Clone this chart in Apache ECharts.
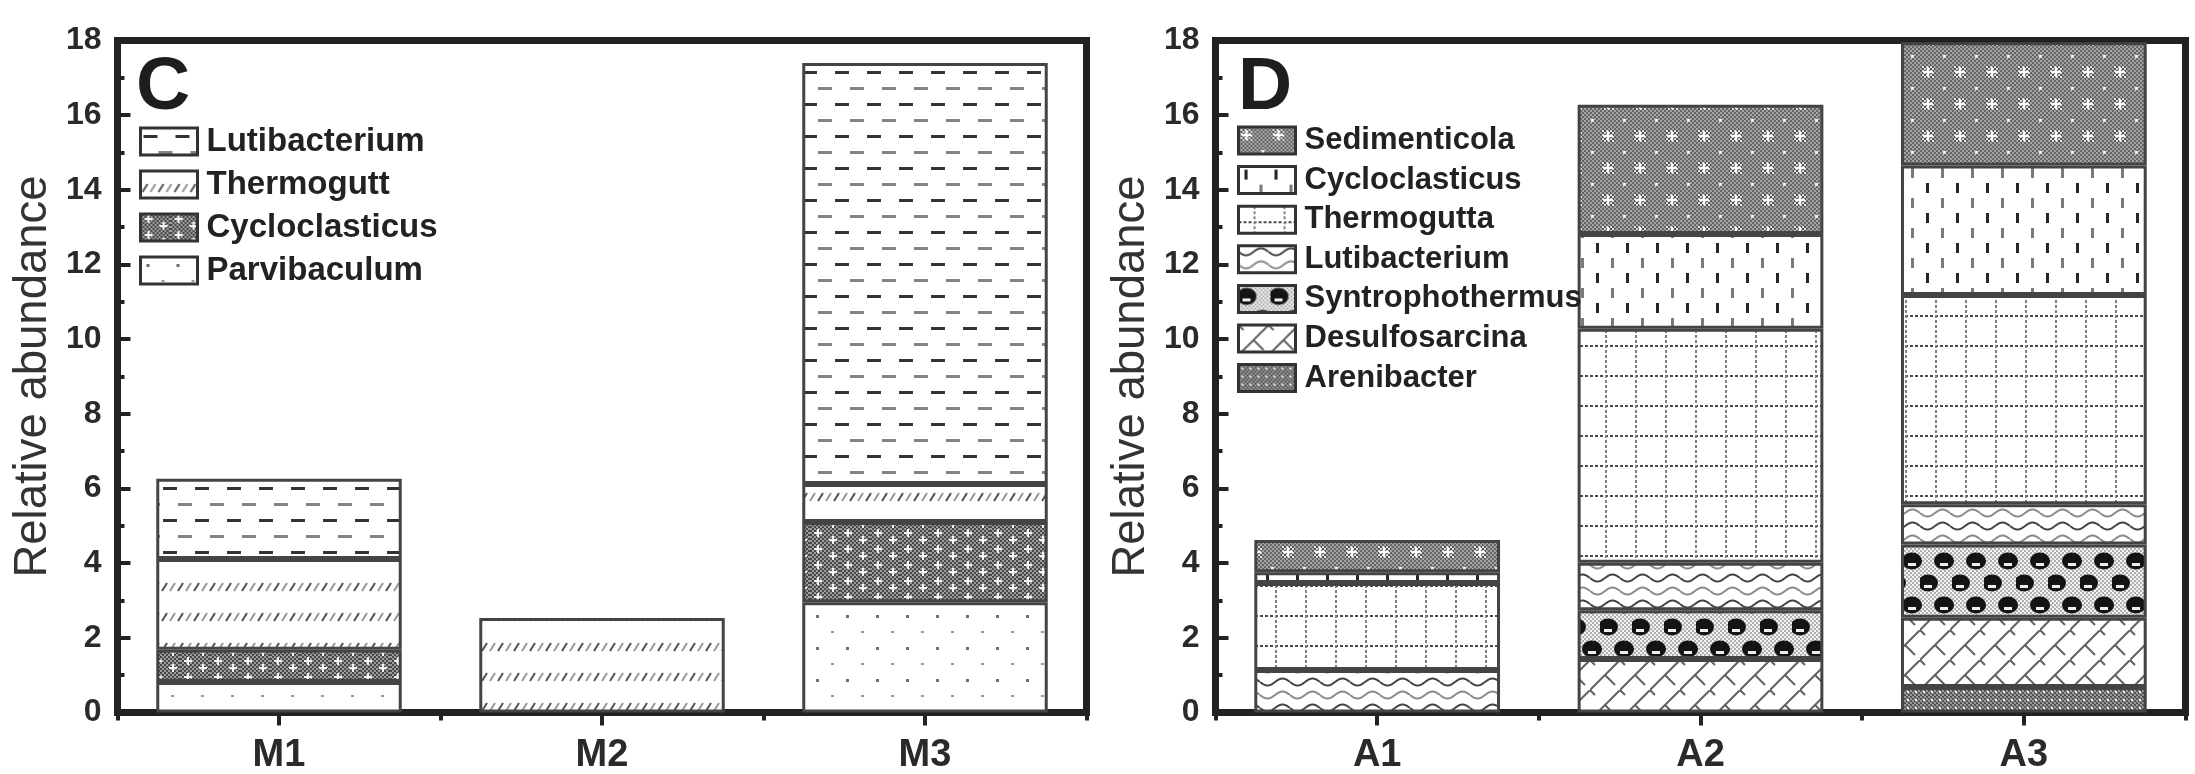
<!DOCTYPE html>
<html>
<head>
<meta charset="utf-8">
<title>Relative abundance</title>
<script src="https://cdn.jsdelivr.net/npm/echarts@6/dist/echarts.min.js"></script>
<style>
  html, body { margin: 0; padding: 0; background: #fff; }
  #chart { width: 2195px; height: 774px; }
</style>
</head>
<body>
<div id="chart"></div>
<script>
// ---- data: panel C (M samples), stacked bottom -> top ----
const categoriesC = ['M1', 'M2', 'M3'];
const parvibaculumC   = [0.82, 0,    2.95];
const cycloclasticusC = [0.86, 0,    2.15];
const thermoguttC     = [2.43, 2.53, 1.02];
const lutibacteriumC  = [2.15, 0,    11.28];

// ---- data: panel D (A samples), stacked bottom -> top ----
const categoriesD = ['A1', 'A2', 'A3'];
const arenibacterD      = [0,    0,    0.68];
const desulfosarcinaD   = [0,    1.43, 1.86];
const syntrophothermusD = [0,    1.31, 1.96];
const lutibacteriumD    = [1.14, 1.27, 1.08];
const thermoguttaD      = [2.33, 6.27, 5.60];
const cycloclasticusD   = [0.29, 2.54, 3.47];
const sedimenticolaD    = [0.86, 3.46, 3.30];

const yTicks = { min: 0, max: 18, interval: 2 };

const FONT = '"Liberation Sans", Arial, sans-serif';

// ---- fill textures ----
function tile(w, h, draw) {
  const c = document.createElement('canvas');
  c.width = w; c.height = h;
  const g = c.getContext('2d');
  g.fillStyle = '#fff';
  g.fillRect(0, 0, w, h);
  draw(g, w, h);
  return { image: c, repeat: 'repeat' };
}
function checker(g, x0, y0, w, h, a, b, s) {
  for (let x = x0; x < x0 + w; x += s) {
    for (let y = y0; y < y0 + h; y += s) {
      g.fillStyle = ((x + y) / s) % 2 ? a : b;
      g.fillRect(x, y, s, s);
    }
  }
}
function plus(g, cx, cy, r, col) {
  g.fillStyle = col;
  g.fillRect(cx - r, cy - 1, 2 * r, 2);
  g.fillRect(cx - 1, cy - r, 2, 2 * r);
}

const pat = {
  // horizontal dashes
  lutiC: tile(32, 32, g => {
    g.fillStyle = '#333'; g.fillRect(3, 7, 14, 3);
    g.fillStyle = '#858585'; g.fillRect(18, 23, 14, 3);
  }),
  // rows of short slashes
  thermoC: tile(16, 30, g => {
    g.lineWidth = 2;
    g.strokeStyle = '#555'; g.beginPath(); g.moveTo(2, 21); g.lineTo(7, 13); g.stroke();
    g.strokeStyle = '#999'; g.beginPath(); g.moveTo(10, 21); g.lineTo(15, 13); g.stroke();
  }),
  // dense grey weave with light crosses
  cycloC: tile(30, 16, (g, w, h) => {
    checker(g, 0, 0, w, h, '#484848', '#9c9c9c', 2);
    plus(g, 8, 5, 4, '#f4f4f4');
    plus(g, 23, 12, 4, '#f4f4f4');
  }),
  // sparse dots
  parvC: tile(30, 32, g => {
    g.fillStyle = '#6e6e6e'; g.fillRect(6, 7, 3, 3);
    g.fillStyle = '#9a9a9a'; g.fillRect(21, 23, 3, 2);
  }),
  // grey weave with white stars
  sedD: tile(32, 32, (g, w, h) => {
    checker(g, 0, 0, w, h, '#666', '#a4a4a4', 2);
    checker(g, 2, 2, 12, 12, '#555', '#e0e0e0', 2);
    plus(g, 8, 8, 5, '#ffffff');
    g.fillStyle = '#f0f0f0'; g.fillRect(23, 23, 3, 3);
  }),
  // staggered vertical dashes
  cycloD: tile(30, 30, g => {
    g.fillStyle = '#262626'; g.fillRect(6, 3, 3, 10);
    g.fillStyle = '#7a7a7a'; g.fillRect(21, 18, 3, 10);
  }),
  // dotted grid
  thermoD: tile(30, 30, g => {
    for (let x = 0; x < 30; x += 5) { g.fillStyle = '#4a4a4a'; g.fillRect(x, 15, 3, 2); }
    for (let y = 0; y < 30; y += 5) { g.fillStyle = '#808080'; g.fillRect(15, y, 2, 3); }
  }),
  // wavy lines
  lutiD: tile(30, 26, g => {
    g.lineWidth = 2;
    [[6, '#444'], [19, '#8a8a8a']].forEach(([y0, col]) => {
      g.strokeStyle = col; g.beginPath();
      for (let x = 0; x <= 30; x++) {
        const y = y0 + 3.5 * Math.sin(2 * Math.PI * x / 30);
        if (x === 0) g.moveTo(x, y); else g.lineTo(x, y);
      }
      g.stroke();
    });
  }),
  // dark half-round blobs, staggered rows
  syntD: tile(32, 44, (g, w, h) => {
    checker(g, 0, 0, w, h, '#b0b0b0', '#f2f2f2', 2);
    [[8, 11], [24, 33], [40, 33], [-8, 33]].forEach(([cx, cy]) => {
      g.fillStyle = '#141414';
      g.beginPath(); g.ellipse(cx, cy, 10, 8.5, 0, 0, 2 * Math.PI); g.fill();
      g.fillStyle = '#ededed'; g.fillRect(cx - 4, cy + 2, 8, 3);
    });
  }),
  // diagonal brick
  desD: tile(30, 30, g => {
    g.strokeStyle = '#626262'; g.lineWidth = 2;
    g.beginPath(); g.moveTo(-2, 32); g.lineTo(32, -2); g.stroke();
    g.beginPath(); g.moveTo(15, 15); g.lineTo(25, 25); g.stroke();
    g.beginPath(); g.moveTo(0, 0); g.lineTo(5, 5); g.stroke();
  }),
  // dense dark weave with light dots
  arenD: tile(8, 8, (g, w, h) => {
    checker(g, 0, 0, w, h, '#555', '#9a9a9a', 2);
    g.fillStyle = '#e8e8e8'; g.fillRect(3, 3, 2, 2);
  })
};

// ---- series builders ----
const SEP = '\u2009|';
function nz(arr) { return arr.map(v => (v === 0 ? null : v)); }
function barSeries(panel, name, values, fill, axisIdx) {
  return {
    type: 'bar',
    name: name + SEP + panel,
    stack: 'total' + panel,
    xAxisIndex: axisIdx,
    yAxisIndex: axisIdx === 0 ? 0 : 1,
    barWidth: '76%',
    data: nz(values),
    itemStyle: { color: fill, borderColor: '#444', borderWidth: 3 },
    emphasis: { disabled: true },
    animation: false
  };
}

const seriesC = [
  barSeries('C', 'Parvibaculum', parvibaculumC, pat.parvC, 0),
  barSeries('C', 'Cycloclasticus', cycloclasticusC, pat.cycloC, 0),
  barSeries('C', 'Thermogutt', thermoguttC, pat.thermoC, 0),
  barSeries('C', 'Lutibacterium', lutibacteriumC, pat.lutiC, 0)
];
const seriesD = [
  barSeries('D', 'Arenibacter', arenibacterD, pat.arenD, 2),
  barSeries('D', 'Desulfosarcina', desulfosarcinaD, pat.desD, 2),
  barSeries('D', 'Syntrophothermus', syntrophothermusD, pat.syntD, 2),
  barSeries('D', 'Lutibacterium', lutibacteriumD, pat.lutiD, 2),
  barSeries('D', 'Thermogutta', thermoguttaD, pat.thermoD, 2),
  barSeries('D', 'Cycloclasticus', cycloclasticusD, pat.cycloD, 2),
  barSeries('D', 'Sedimenticola', sedimenticolaD, pat.sedD, 2)
];

// ---- axes ----
function xMain(gridIndex, data) {
  return {
    gridIndex, type: 'category', data, position: 'bottom',
    axisLine: { show: true, lineStyle: { color: '#222', width: 7 } },
    axisTick: { show: true, alignWithLabel: true, length: 13, lineStyle: { color: '#222', width: 4 } },
    axisLabel: { fontSize: 38, fontWeight: 'bold', color: '#2a2a2a', margin: 24, fontFamily: FONT },
    splitLine: { show: false }
  };
}
function xBoundary(gridIndex, data) {
  return {
    gridIndex, type: 'category', data, position: 'bottom',
    axisLine: { show: false },
    axisTick: { show: true, length: 8, lineStyle: { color: '#222', width: 4 } },
    axisLabel: { show: false },
    splitLine: { show: false }
  };
}
function yAxis(gridIndex) {
  return {
    gridIndex, type: 'value', min: yTicks.min, max: yTicks.max, interval: yTicks.interval,
    axisLine: { show: true, lineStyle: { color: '#222', width: 7 } },
    axisTick: { show: true, inside: true, length: 13, lineStyle: { color: '#222', width: 4 } },
    minorTick: { show: true, splitNumber: 2, length: 7, lineStyle: { color: '#222', width: 4 } },
    axisLabel: { fontSize: 32, fontWeight: 'bold', color: '#2a2a2a', margin: 16, fontFamily: FONT },
    splitLine: { show: false },
    minorSplitLine: { show: false },
    name: 'Relative abundance', nameLocation: 'middle', nameGap: 61,
    nameTextStyle: { fontSize: 45.5, color: '#333', fontFamily: FONT }
  };
}

function legend(names, left, fontSize, gap) {
  return {
    data: names, orient: 'vertical', left, top: 125, padding: 0,
    itemWidth: 57, itemHeight: 27, itemGap: gap, icon: 'rect',
    selectedMode: false,
    formatter: n => n.split(SEP)[0],
    itemStyle: { borderColor: '#333', borderWidth: 3 },
    textStyle: { fontSize, fontWeight: 'bold', color: '#222', fontFamily: FONT, lineHeight: 27, padding: [0, 0, 0, 4] }
  };
}

const gridCommon = { show: true, borderColor: '#222', borderWidth: 7, backgroundColor: 'transparent', containLabel: false, outerBoundsMode: 'none' };

const option = {
  backgroundColor: '#ffffff',
  animation: false,
  textStyle: { fontFamily: FONT },
  title: [
    { text: 'C', left: 136, top: 51, padding: 0, textStyle: { fontSize: 75, fontWeight: 'bold', color: '#1e1e1e', fontFamily: FONT } },
    { text: 'D', left: 1238, top: 51, padding: 0, textStyle: { fontSize: 75, fontWeight: 'bold', color: '#1e1e1e', fontFamily: FONT } }
  ],
  grid: [
    Object.assign({ left: 117.5, top: 40.5, width: 969, height: 672 }, gridCommon),
    Object.assign({ left: 1215.5, top: 40.5, width: 970, height: 672 }, gridCommon)
  ],
  xAxis: [xMain(0, categoriesC), xBoundary(0, categoriesC), xMain(1, categoriesD), xBoundary(1, categoriesD)],
  yAxis: [yAxis(0), yAxis(1)],
  legend: [
    legend(seriesC.slice().reverse().map(s => s.name), 139, 33, 10),
    legend(seriesD.slice().reverse().map(s => s.name), 1237, 31, 8.6)
  ],
  series: seriesC.concat(seriesD)
};

const chart = echarts.init(document.getElementById('chart'), null, { renderer: 'canvas' });
chart.setOption(option);
</script>
</body>
</html>
